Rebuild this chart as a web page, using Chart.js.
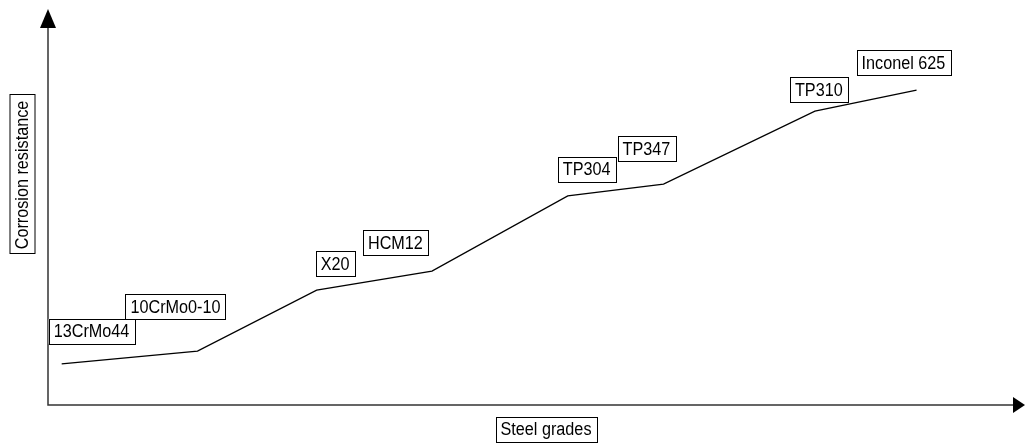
<!DOCTYPE html>
<html>
<head>
<meta charset="utf-8">
<script src="https://cdn.jsdelivr.net/npm/chart.js@4"></script>
<style>
  html, body { margin: 0; padding: 0; background: #fff; }
  #wrap { width: 1025px; height: 443px; position: relative; }
</style>
</head>
<body>
<div id="wrap"><canvas id="myChart"></canvas></div>
<script>
// steel grades along the x axis, corrosion resistance on y (arbitrary units 0..100)
const grades = ['13CrMo44', '10CrMo0-10', 'X20', 'HCM12', 'TP304', 'TP347', 'TP310', 'Inconel 625']
const gradePos = [1.4, 15.3, 27.5, 39.3, 53.2, 63.0, 78.5, 88.9]
const resistance = [10.4, 13.6, 29.0, 33.8, 52.8, 55.8, 74.2, 79.5]

const xTitle = 'Steel grades'
const yTitle = 'Corrosion resistance'

// label box offsets from each point (px), left/top corner
const labelOffsets = [
  [-13, -45], [-72, -57], [-1, -39], [-69, -41],
  [-10, -39], [-46, -48], [-25, -34], [-60, -40],
]

const font = '18px "Liberation Sans", Arial, sans-serif'
const squeeze = 0.9 // the original text is narrow

const boxText = (ctx, text, left, top) => {
  ctx.font = font
  let w = Math.round(ctx.measureText(text).width * squeeze + 10)
  let h = 25
  ctx.fillStyle = '#fff'
  ctx.fillRect(left, top, w, h)
  ctx.strokeStyle = '#000'
  ctx.lineWidth = 1
  ctx.strokeRect(Math.round(left) + 0.5, Math.round(top) + 0.5, w, h)
  ctx.save()
  ctx.fillStyle = '#000'
  ctx.textBaseline = 'middle'
  ctx.textAlign = 'left'
  ctx.translate(left + 5, top + h / 2 + 1)
  ctx.scale(squeeze, 1)
  ctx.fillText(text, 0, 0)
  ctx.restore()
  return w
}

const axesPlugin = {
  id: 'axesPlugin',
  beforeDatasetsDraw(chart) {
    const ctx = chart.ctx
    const a = chart.chartArea
    ctx.save()
    ctx.strokeStyle = '#333'
    ctx.lineWidth = 1.5
    ctx.beginPath()
    ctx.moveTo(a.left, a.top + 10)
    ctx.lineTo(a.left, a.bottom)
    ctx.lineTo(a.right - 8, a.bottom)
    ctx.stroke()
    // arrow heads
    ctx.fillStyle = '#000'
    ctx.beginPath()
    ctx.moveTo(a.left, a.top)
    ctx.lineTo(a.left - 8, a.top + 19)
    ctx.lineTo(a.left + 8, a.top + 19)
    ctx.closePath()
    ctx.fill()
    ctx.beginPath()
    ctx.moveTo(a.right, a.bottom)
    ctx.lineTo(a.right - 12, a.bottom - 8)
    ctx.lineTo(a.right - 12, a.bottom + 8)
    ctx.closePath()
    ctx.fill()
    ctx.restore()
  },
  afterDatasetsDraw(chart) {
    const ctx = chart.ctx
    const xs = chart.scales.x
    const ys = chart.scales.y
    ctx.save()
    grades.forEach((g, i) => {
      let px = xs.getPixelForValue(gradePos[i])
      let py = ys.getPixelForValue(resistance[i])
      boxText(ctx, g, px + labelOffsets[i][0], py + labelOffsets[i][1])
    })
    // x title
    ctx.font = font
    let w = ctx.measureText(xTitle).width * squeeze + 10
    boxText(ctx, xTitle, 546 - w / 2, 417)
    // y title, rotated
    ctx.translate(22.5, 175)
    ctx.rotate(-Math.PI / 2)
    let wy = ctx.measureText(yTitle).width * squeeze + 10
    boxText(ctx, yTitle, -wy / 2, -13)
    ctx.restore()
  },
}

const myChart = new Chart('myChart', {
  type: 'line',
  data: {
    datasets: [
      {
        data: gradePos.map((x, i) => ({ x: x, y: resistance[i] })),
        borderColor: '#000',
        borderWidth: 1.3,
        pointRadius: 0,
        fill: false,
        tension: 0,
      },
    ],
  },
  options: {
    responsive: true,
    maintainAspectRatio: false,
    animation: false,
    layout: { padding: { left: 48, right: 0, top: 9, bottom: 38 } },
    plugins: { legend: { display: false }, tooltip: { enabled: false } },
    scales: {
      x: { type: 'linear', min: 0, max: 100, display: false },
      y: { type: 'linear', min: 0, max: 100, display: false },
    },
  },
  plugins: [axesPlugin],
})
</script>
</body>
</html>
